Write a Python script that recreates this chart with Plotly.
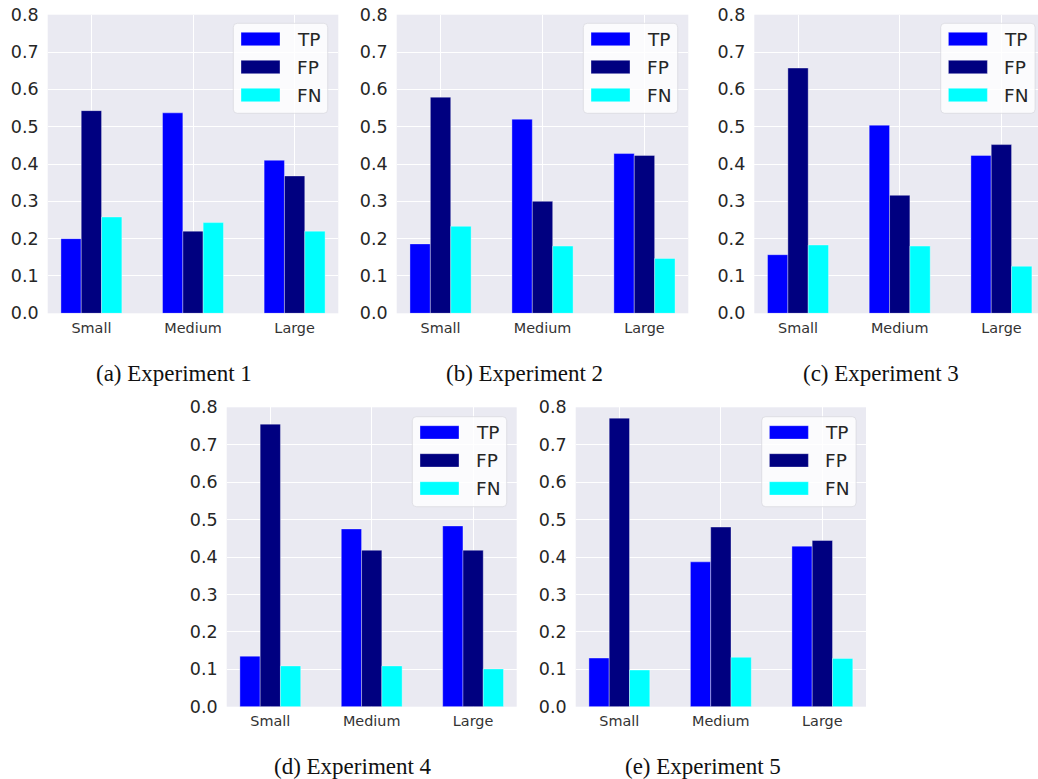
import plotly.graph_objects as go

# ---- data -------------------------------------------------------------
categories = ["Small", "Medium", "Large"]
series_names = ["TP", "FP", "FN"]
series_colors = ["#0000FF", "#000080", "#00FFFF"]

exp1 = {"TP": [0.200, 0.537, 0.410], "FP": [0.543, 0.220, 0.368], "FN": [0.258, 0.243, 0.220]}
exp2 = {"TP": [0.186, 0.520, 0.428], "FP": [0.579, 0.300, 0.423], "FN": [0.233, 0.180, 0.147]}
exp3 = {"TP": [0.157, 0.504, 0.423], "FP": [0.657, 0.316, 0.452], "FN": [0.183, 0.180, 0.126]}
exp4 = {"TP": [0.135, 0.475, 0.483], "FP": [0.755, 0.418, 0.418], "FN": [0.109, 0.109, 0.101]}
exp5 = {"TP": [0.130, 0.387, 0.429], "FP": [0.771, 0.480, 0.444], "FN": [0.098, 0.132, 0.129]}

experiments = [exp1, exp2, exp3, exp4, exp5]
captions = ["(a) Experiment 1", "(b) Experiment 2", "(c) Experiment 3",
            "(d) Experiment 4", "(e) Experiment 5"]
y_ticks = [0.0, 0.1, 0.2, 0.3, 0.4, 0.5, 0.6, 0.7, 0.8]

# ---- page geometry (pixels) ------------------------------------------
W, H = 1038, 779
# plot area: left, right, top, bottom, x-range right end
panels = [
    (47.7, 338.3, 14.7, 313.3, 2.43),
    (396.7, 688.3, 14.7, 313.3, 2.43),
    (754.3, 1038.0, 14.7, 313.3, 2.36),
    (226.7, 516.7, 407.3, 706.7, 2.43),
    (575.7, 866.0, 407.3, 706.7, 2.43),
]
legend_boxes = [(233.3, 23.3), (583.3, 23.3), (940.7, 23.3), (412.3, 416.7), (761.7, 416.7)]
caption_pos = [(174, 373), (524, 373), (881, 373), (353, 766), (702.5, 766)]


def px(x):
    return x / W


def py(y):
    return 1 - y / H


BG = "#EAEAF2"
TEXT = "#262626"

fig = go.Figure()
layout = dict(
    width=W, height=H,
    margin=dict(l=0, r=0, t=0, b=0, pad=0),
    paper_bgcolor="white",
    plot_bgcolor=BG,
    barmode="group",
    bargap=0.4,
    bargroupgap=0.0,
    showlegend=False,
)
shapes = []
annotations = []

for i, (exp, (l, r, t, b, xmax)) in enumerate(zip(experiments, panels)):
    n = "" if i == 0 else str(i + 1)
    xa, ya = "x" + n, "y" + n
    for name, color in zip(series_names, series_colors):
        fig.add_trace(go.Bar(
            x=categories, y=exp[name], name=name,
            marker=dict(color=color, line=dict(color="rgba(255,255,255,0.35)", width=1)),
            xaxis=xa, yaxis=ya,
        ))
    layout["xaxis" + n] = dict(
        domain=[px(l), px(r)], anchor=ya, range=[-0.43, xmax],
        type="category", categoryorder="array", categoryarray=categories,
        showgrid=True, gridcolor="white", gridwidth=1, zeroline=False,
        showline=False, ticks="", ticklabelstandoff=4, automargin=False,
        tickfont=dict(family="DejaVu Sans", size=14.4, color="#333333"),
    )
    layout["yaxis" + n] = dict(
        domain=[py(b), py(t)], anchor=xa, range=[0, 0.8],
        tickmode="array", tickvals=y_ticks, tickformat=".1f",
        showgrid=True, gridcolor="white", gridwidth=1, zeroline=False,
        showline=False, ticks="", ticklabelstandoff=8, automargin=False,
        tickfont=dict(family="DejaVu Sans", size=17.5, color=TEXT),
    )

    # legend frame with rounded corners
    L, T = legend_boxes[i]
    Wb, Hb, rad = 94.4, 90.0, 4.0
    R, B = L + Wb, T + Hb
    path = (
        f"M {px(L + rad)},{py(T)} L {px(R - rad)},{py(T)} "
        f"Q {px(R)},{py(T)} {px(R)},{py(T + rad)} "
        f"L {px(R)},{py(B - rad)} Q {px(R)},{py(B)} {px(R - rad)},{py(B)} "
        f"L {px(L + rad)},{py(B)} Q {px(L)},{py(B)} {px(L)},{py(B - rad)} "
        f"L {px(L)},{py(T + rad)} Q {px(L)},{py(T)} {px(L + rad)},{py(T)} Z"
    )
    shapes.append(dict(type="path", path=path, xref="paper", yref="paper",
                       fillcolor="rgba(255,255,255,0.8)",
                       line=dict(color="rgba(215,215,222,0.9)", width=0.8),
                       layer="above"))
    for k, (name, color) in enumerate(zip(series_names, series_colors)):
        y0 = T + 9.0 + k * 28
        shapes.append(dict(type="rect", xref="paper", yref="paper",
                           x0=px(L + 7.7), x1=px(L + 46.7),
                           y0=py(y0 + 13.4), y1=py(y0),
                           fillcolor=color,
                           line=dict(color="rgba(255,255,255,0.35)", width=1),
                           layer="above"))
        annotations.append(dict(
            x=px(L + 61.5), y=py(y0 + 6.9), xref="paper", yref="paper",
            text=name, showarrow=False, xanchor="left", yanchor="middle",
            font=dict(family="DejaVu Sans", size=18.5, color=TEXT),
        ))

    cx, cy = caption_pos[i]
    annotations.append(dict(
        x=px(cx), y=py(cy), xref="paper", yref="paper",
        text=captions[i], showarrow=False, xanchor="center", yanchor="middle",
        font=dict(family="Liberation Serif", size=23, color="#111111"),
    ))

layout["shapes"] = shapes
layout["annotations"] = annotations
fig.update_layout(**layout)

fig.write_html("out.html")
